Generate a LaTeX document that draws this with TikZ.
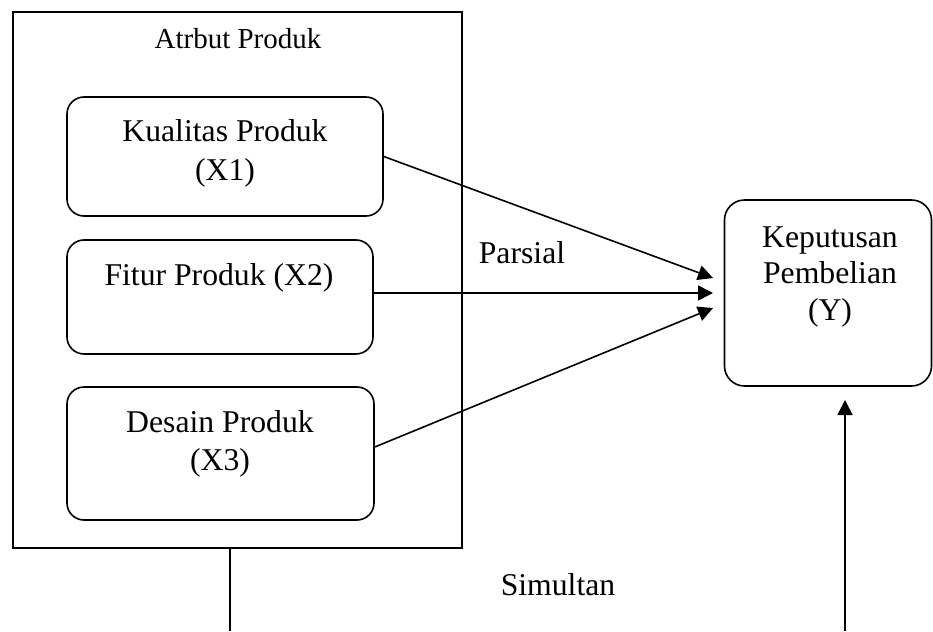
\documentclass[tikz,border=0pt]{standalone}
\usepackage{fontspec}
\setmainfont{Liberation Serif}
\usetikzlibrary{arrows.meta}
\begin{document}
\begin{tikzpicture}[x=1pt,y=-1pt,
  rbox/.style={draw, line width=1.6pt, rounded corners=17pt, rectangle, inner sep=0pt},
  obox/.style={draw, line width=1.6pt, rectangle, inner sep=0pt},
  lbl/.style={anchor=base, inner sep=0pt, font=\fontsize{31.7}{38}\selectfont},
  ttl/.style={anchor=base, inner sep=0pt, font=\fontsize{29}{35}\selectfont},
  conn/.style={line width=1.6pt},
  arr/.style={line width=1.6pt, -{Triangle[length=15pt,width=15pt]}}
]
\useasboundingbox (0,0) rectangle (933,631);
% outer box
\node[obox, minimum width=449pt, minimum height=536pt] (outer) at (237.5,280) {};
\node[ttl] (title) at (238,49) {Atrbut Produk};
% inner boxes
\node[rbox, minimum width=316pt, minimum height=119pt] (k) at (225,156.5) {};
\node[lbl] (kt1) at (225,142) {Kualitas Produk};
\node[lbl] (kt2) at (225,180) {(X1)};
\node[rbox, minimum width=306pt, minimum height=114pt] (f) at (220,297) {};
\node[lbl] (ft1) at (219,285) {Fitur Produk (X2)};
\node[rbox, minimum width=307pt, minimum height=133pt] (d) at (220.5,453.5) {};
\node[lbl] (dt1) at (220,432) {Desain Produk};
\node[lbl] (dt2) at (220,470) {(X3)};
% Y box
\node[rbox, rounded corners=20pt, minimum width=207pt, minimum height=186pt] (y) at (828,293) {};
\node[lbl] (yt1) at (830,247) {Keputusan};
\node[lbl] (yt2) at (830,283) {Pembelian};
\node[lbl] (yt3) at (830,320) {(Y)};
% labels
\node[lbl] (parsial) at (522,263) {Parsial};
\node[lbl] (simultan) at (558,595) {Simultan};
% arrow targets
\coordinate (ta) at (713,278);
\coordinate (tb) at (713,293);
\coordinate (tc) at (713,308);
\draw[arr] (k.east) -- (ta);
\draw[arr] ([yshift=4pt]f.east) -- (tb);
\draw[arr] ([yshift=6.5pt]d.east) -- (tc);
% simultan lines
\coordinate (sl) at (230,631);
\coordinate (sr) at (845,631);
\coordinate (stip) at (845,400);
\draw[conn] (outer.south -| sl) -- (sl);
\draw[arr] (sr) -- (stip);
\end{tikzpicture}
\end{document}
